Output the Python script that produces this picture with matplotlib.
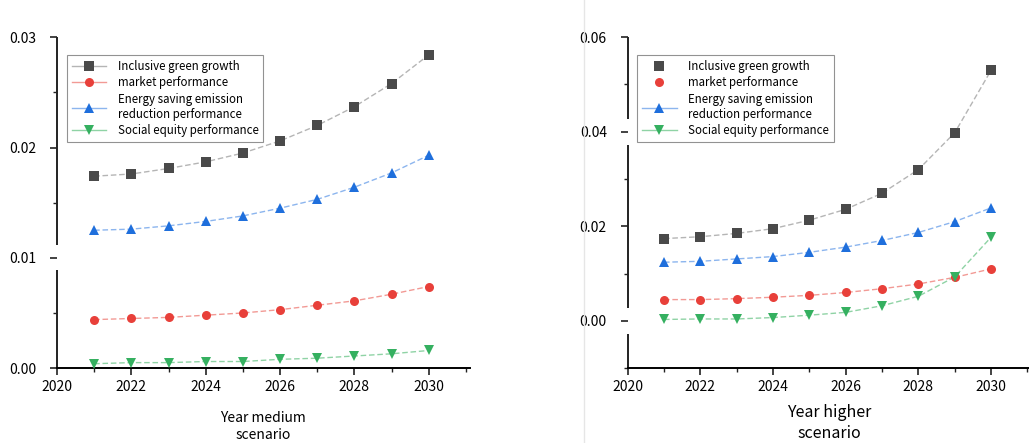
import numpy as np
import matplotlib.pyplot as plt
import matplotlib.transforms as mtransforms
from matplotlib.lines import Line2D
from matplotlib.ticker import MultipleLocator

plt.rcParams['font.family'] = ['Noto Sans CJK SC', 'DejaVu Sans']

years = [2021, 2022, 2023, 2024, 2025, 2026, 2027, 2028, 2029, 2030]

# medium scenario
med_green = [0.0174, 0.0176, 0.0181, 0.0187, 0.0195, 0.0206, 0.0220, 0.0237, 0.0258, 0.0284]
med_market = [0.0044, 0.0045, 0.0046, 0.0048, 0.0050, 0.0053, 0.0057, 0.0061, 0.0067, 0.0074]
med_energy = [0.0125, 0.0126, 0.0129, 0.0133, 0.0138, 0.0145, 0.0153, 0.0164, 0.0177, 0.0193]
med_social = [0.0004, 0.0005, 0.0005, 0.0006, 0.0006, 0.0008, 0.0009, 0.0011, 0.0013, 0.0016]

# higher scenario
high_green = [0.0174, 0.0178, 0.0185, 0.0195, 0.0213, 0.0236, 0.0270, 0.0320, 0.0398, 0.0530]
high_market = [0.0045, 0.0045, 0.0047, 0.0050, 0.0054, 0.0060, 0.0068, 0.0078, 0.0092, 0.0110]
high_energy = [0.0124, 0.0126, 0.0131, 0.0136, 0.0145, 0.0156, 0.0170, 0.0187, 0.0210, 0.0239]
high_social = [0.0003, 0.0004, 0.0004, 0.0007, 0.0012, 0.0018, 0.0032, 0.0052, 0.0093, 0.0177]

labels = ['Inclusive green growth', 'market performance',
          'Energy saving emission\nreduction performance', 'Social equity performance']

# marker colour, line colour, marker
styles = [
    ('#4a4a4a', '#b5b5b5', 's'),
    ('#e8403a', '#f29a95', 'o'),
    ('#1f6fdc', '#8cb5ee', '^'),
    ('#35b060', '#8fd3a5', 'v'),
]

fig = plt.figure(figsize=(10.29, 4.43), dpi=100)
ax1 = fig.add_axes([0.0554, 0.169, 0.401, 0.747])
ax2 = fig.add_axes([0.610, 0.169, 0.392, 0.747])


def draw_panel(ax, series, ylim, ymajor, spine_gaps, xlabel, xlabel_size, xpad, legend_lines):
    for vals, (mc, lc, mk) in zip(series, styles):
        ax.plot(years, vals, color=lc, lw=1.0, linestyle=(0, (4, 2)), zorder=2)
        ax.plot(years, vals, linestyle='none', marker=mk, color=mc,
                markersize=6.5, markeredgewidth=0, zorder=3)

    ax.set_xlim(2020, 2031.1)
    ax.set_ylim(*ylim)
    ax.xaxis.set_major_locator(MultipleLocator(2))
    ax.xaxis.set_minor_locator(MultipleLocator(1))
    ax.yaxis.set_major_locator(MultipleLocator(ymajor))
    ax.yaxis.set_minor_locator(MultipleLocator(ymajor / 2))
    ax.yaxis.set_major_formatter(plt.FormatStrFormatter('%.2f'))
    ax.tick_params(which='major', direction='out', length=5, width=1.2,
                   labelsize=10, color='#222222')
    ax.tick_params(which='minor', direction='out', length=3, width=1.0, color='#222222')
    ax.tick_params(axis='y', which='both', pad=10)

    for s in ['top', 'right']:
        ax.spines[s].set_visible(False)
    ax.spines['bottom'].set_linewidth(1.4)
    ax.spines['left'].set_visible(False)

    # left axis line drawn in pieces, with breaks
    trans = mtransforms.blended_transform_factory(ax.transAxes, ax.transData)
    edges = [ylim[0]] + [v for gap in spine_gaps for v in gap] + [ylim[1]]
    for lo, hi in zip(edges[0::2], edges[1::2]):
        ax.plot([0, 0], [lo, hi], transform=trans, color='#222222', lw=1.4,
                clip_on=False, solid_capstyle='butt')

    ax.set_xlabel(xlabel, fontsize=xlabel_size, labelpad=xpad, linespacing=1.3)

    handles = []
    for (mc, lc, mk), has_line in zip(styles, legend_lines):
        handles.append(Line2D([], [], color=lc if has_line else 'none', lw=1.0,
                              marker=mk, markerfacecolor=mc, markeredgewidth=0,
                              markersize=6.5))
    leg = ax.legend(handles, labels, loc='upper left', bbox_to_anchor=(0.024, 0.946),
                    borderaxespad=0, fontsize=8.3, frameon=True, fancybox=False,
                    handlelength=3.0, handletextpad=1.0, labelspacing=0.3,
                    borderpad=0.4)
    leg.get_frame().set_edgecolor('#777777')
    leg.get_frame().set_linewidth(0.8)


draw_panel(ax1, [med_green, med_market, med_energy, med_social],
           (0, 0.03), 0.01, [(0.00888, 0.01115)],
           'Year medium\nscenario', 10, 12, [True, True, True, True])
draw_panel(ax2, [high_green, high_market, high_energy, high_social],
           (-0.01, 0.06), 0.02, [(-0.0028, 0.0028), (0.0373, 0.0428)],
           'Year higher\nscenario', 11.5, 7, [False, False, True, True])

# thin divider between the two panels
fig.add_artist(Line2D([0.568, 0.568], [0.0, 1.0], color='#e6e6e6', lw=1.0))

fig.savefig('out.png', dpi=100)
